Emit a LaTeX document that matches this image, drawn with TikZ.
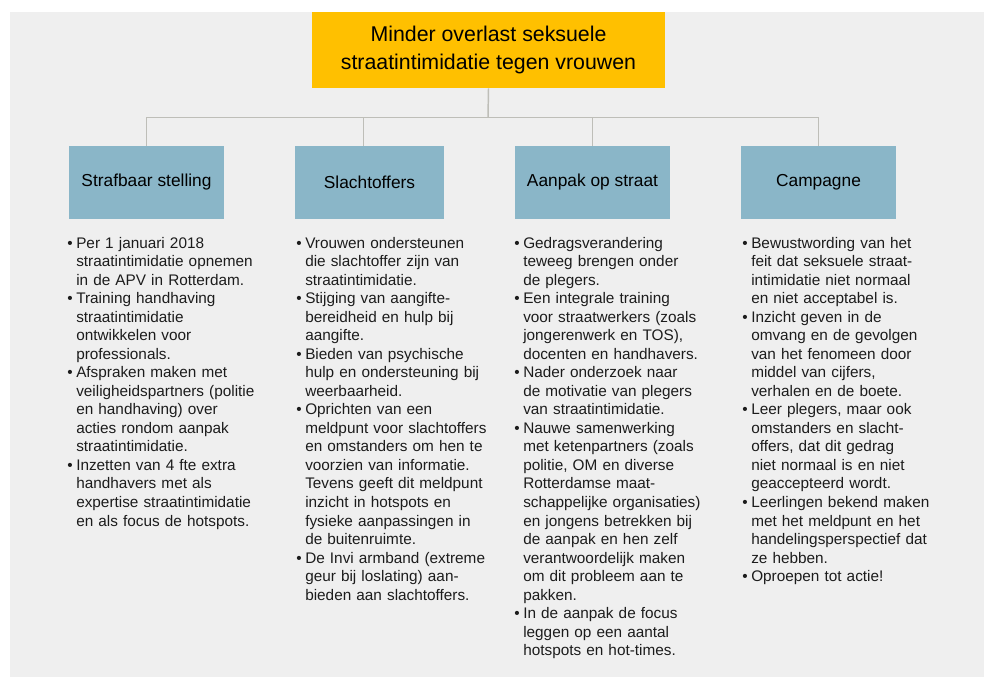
\documentclass[tikz,border=0pt]{standalone}
\usepackage{fontspec}
\setmainfont{Liberation Sans}
\usepackage{xcolor}
\usepackage{tikz}
\definecolor{panelgray}{HTML}{EFEFEF}
\definecolor{goalyellow}{HTML}{FFC000}
\definecolor{pillarblue}{HTML}{8AB6C8}
\definecolor{linkgray}{HTML}{BEBEB8}
\definecolor{inkgray}{HTML}{1C1C1C}
% one bullet point, hanging indent under the text
\newcommand{\bpoint}[1]{\noindent\hangindent=6.75pt\hangafter=1\makebox[6.75pt][l]{\textbullet}#1\par}

\begin{document}
\begin{tikzpicture}[x=0.75pt, y=-0.75pt,
    goalbox/.style={fill=goalyellow, minimum width=264.75pt, minimum height=57pt, inner sep=0pt,
        align=center, font=\fontsize{16}{20.3}\selectfont, text=black},
    pillar/.style={fill=pillarblue, minimum width=116.25pt, minimum height=54.75pt, inner sep=0pt,
        font=\fontsize{13}{15.6}\selectfont, text=black},
    link/.style={draw=linkgray, line width=1.1pt},
    points/.style={anchor=base west, inner sep=0pt, text width=145pt,
        font=\fontsize{11.5}{13.9}\selectfont, text=inkgray}]

    % Background panel
    \useasboundingbox (0,0) rectangle (984,677);
    \fill[panelgray] (10,12) rectangle (984,677);

    % Goal on top
    \node[goalbox] (goal) at (488.5,50) {Minder overlast seksuele\\straatintimidatie tegen vrouwen};

    % The four pillars
    \node[pillar] (strafbaar) at (146.5,182.5) {\raisebox{-1pt}{Strafbaar stelling}};
    \node[pillar, minimum width=111.75pt] (slachtoffers) at (369.5,182.5) {\raisebox{-1pt}{Slachtoffers}};
    \node[pillar] (aanpak) at (592.5,182.5) {\raisebox{-1pt}{Aanpak op straat}};
    \node[pillar] (campagne) at (818.5,182.5) {\raisebox{-1pt}{Campagne}};

    % Tree lines
    \coordinate (hub) at (488,117.3);
    \draw[link] (goal.south) -- (hub);
    \draw[link] ([xshift=-0.15pt]strafbaar.north) |- (hub) -| (campagne.north);
    \draw[link] ([xshift=-4.35pt]slachtoffers.north) -- ([xshift=-4.35pt]slachtoffers.north |- hub);
    \draw[link] (aanpak.north) -- (aanpak.north |- hub);

    % Bullet lists
    \node[points] (list1) at (67,248) {%
        \bpoint{Per 1 januari 2018\newline straatintimidatie opnemen\newline in de APV in Rotterdam.}
        \bpoint{Training handhaving\newline straatintimidatie\newline ontwikkelen voor\newline professionals.}
        \bpoint{Afspraken maken met\newline veiligheidspartners (politie\newline en handhaving) over\newline acties rondom aanpak\newline straatintimidatie.}
        \bpoint{Inzetten van 4 fte extra\newline handhavers met als\newline expertise straatintimidatie\newline en als focus de hotspots.}};

    \node[points] (list2) at (296,248) {%
        \bpoint{Vrouwen ondersteunen\newline die slachtoffer zijn van\newline straatintimidatie.}
        \bpoint{Stijging van aangifte-\newline bereidheid en hulp bij\newline aangifte.}
        \bpoint{Bieden van psychische\newline hulp en ondersteuning bij\newline weerbaarheid.}
        \bpoint{Oprichten van een\newline meldpunt voor slachtoffers\newline en omstanders om hen te\newline voorzien van informatie.\newline Tevens geeft dit meldpunt\newline inzicht in hotspots en\newline fysieke aanpassingen in\newline de buitenruimte.}
        \bpoint{De Invi armband (extreme\newline geur bij loslating) aan-\newline bieden aan slachtoffers.}};

    \node[points] (list3) at (514,248) {%
        \bpoint{Gedragsverandering\newline teweeg brengen onder\newline de plegers.}
        \bpoint{Een integrale training\newline voor straatwerkers (zoals\newline jongerenwerk en TOS),\newline docenten en handhavers.}
        \bpoint{Nader onderzoek naar\newline de motivatie van plegers\newline van straatintimidatie.}
        \bpoint{Nauwe samenwerking\newline met ketenpartners (zoals\newline politie, OM en diverse\newline Rotterdamse maat-\newline schappelijke organisaties)\newline en jongens betrekken bij\newline de aanpak en hen zelf\newline verantwoordelijk maken\newline om dit probleem aan te\newline pakken.}
        \bpoint{In de aanpak de focus\newline leggen op een aantal\newline hotspots en hot-times.}};

    \node[points] (list4) at (742,248) {%
        \bpoint{Bewustwording van het\newline feit dat seksuele straat-\newline intimidatie niet normaal\newline en niet acceptabel is.}
        \bpoint{Inzicht geven in de\newline omvang en de gevolgen\newline van het fenomeen door\newline middel van cijfers,\newline verhalen en de boete.}
        \bpoint{Leer plegers, maar ook\newline omstanders en slacht-\newline offers, dat dit gedrag\newline niet normaal is en niet\newline geaccepteerd wordt.}
        \bpoint{Leerlingen bekend maken\newline met het meldpunt en het\newline handelingsperspectief dat\newline ze hebben.}
        \bpoint{Oproepen tot actie!}};

\end{tikzpicture}
\end{document}
